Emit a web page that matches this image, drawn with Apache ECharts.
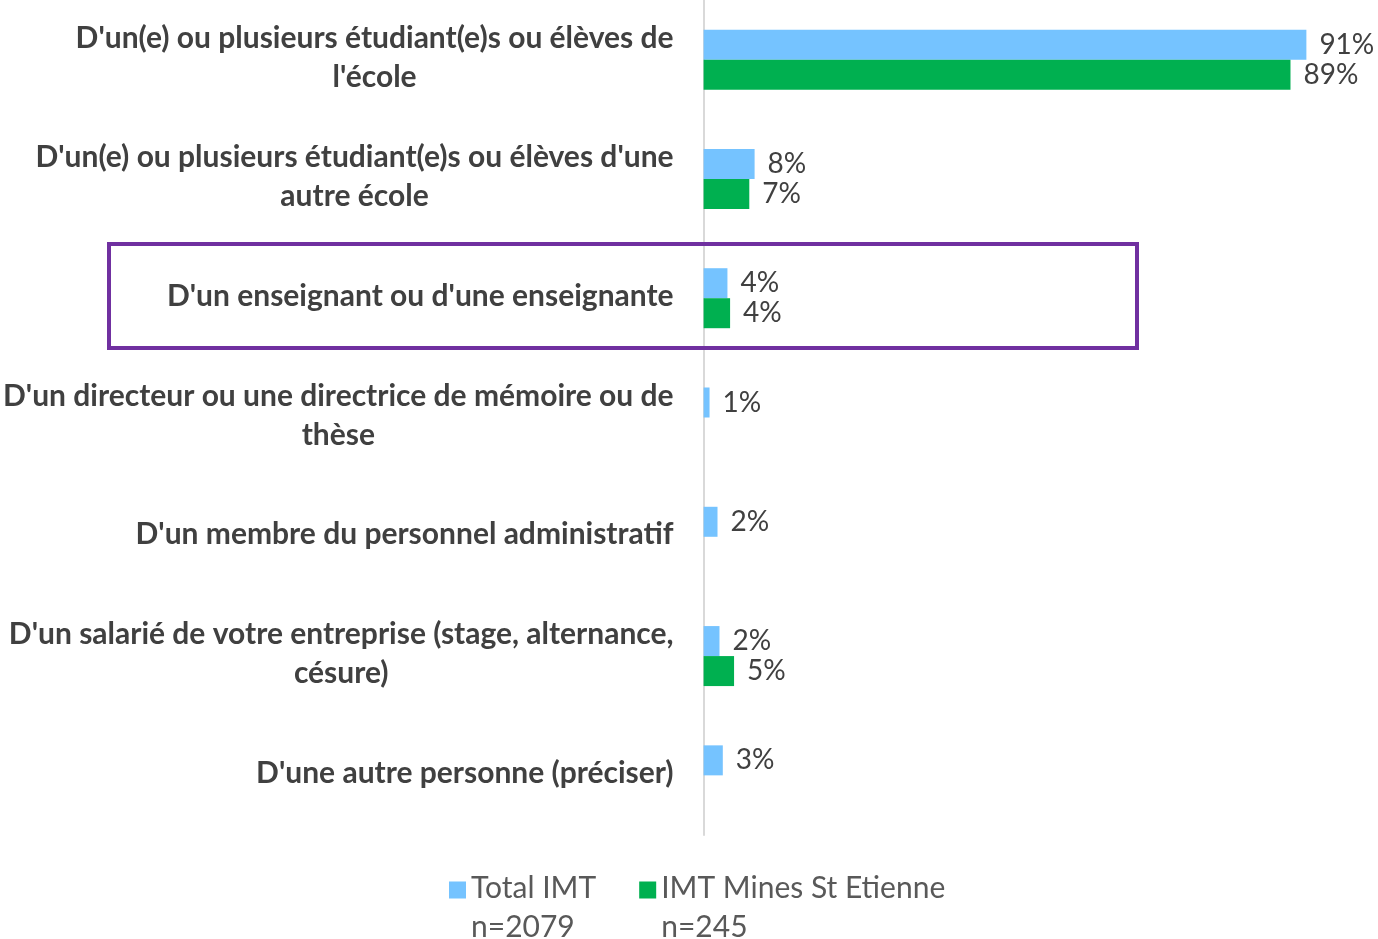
<!DOCTYPE html>
<html>
<head>
<meta charset="utf-8">
<script src="https://cdn.jsdelivr.net/npm/echarts@6/dist/echarts.min.js"></script>
<style>
html,body{margin:0;padding:0;background:#fff;}
#chart{width:1378px;height:939px;}
</style>
</head>
<body>
<div id="chart"></div>
<script>
const categories = [
  "D'un(e) ou plusieurs étudiant(e)s ou élèves de\nl'école",
  "D'un(e) ou plusieurs étudiant(e)s ou élèves d'une\nautre école",
  "D'un enseignant ou d'une enseignante",
  "D'un directeur ou une directrice de mémoire ou de\nthèse",
  "D'un membre du personnel administratif",
  "D'un salarié de votre entreprise (stage, alternance,\ncésure)",
  "D'une autre personne (préciser)"
];
const seriesNames = ["Total IMT", "IMT Mines St Etienne"];
const sampleSizes = ["n=2079", "n=245"];
const totalIMT = [91.0, 7.7, 3.6, 0.9, 2.1, 2.4, 2.9];
const minesStEtienne = [88.6, 6.9, 4.0, null, null, 4.6, null];

const FONT = 'Lato, "Noto Sans", sans-serif';
const chart = echarts.init(document.getElementById('chart'), null, {renderer: 'canvas'});

const valueLabel = {
  show: true,
  position: 'right',
  distance: 13,
  color: '#404040',
  fontSize: 28,
  fontFamily: FONT,
  formatter: p => Math.round(p.value) + '%'
};

const legendSquare = 'path://M0,0L17,0L17,17L0,17Z M0,53L0.01,53Z';

chart.setOption({
  animation: false,
  backgroundColor: '#ffffff',
  grid: {left: 703, right: 12, top: -2, bottom: 104, containLabel: false},
  xAxis: {
    type: 'value', min: 0, max: 100, show: false,
    splitLine: {show: false}
  },
  yAxis: {
    type: 'category',
    inverse: true,
    data: categories,
    axisLine: {show: true, lineStyle: {color: '#D9D9D9', width: 2}},
    axisTick: {show: false},
    axisLabel: {
      margin: 30,
      align: 'right',
      padding: [0, 0, 4, 0],
      formatter: v => v.split('\n').map(l => '{c|' + l + '}').join('\n'),
      rich: {
        c: {align: 'center', fontSize: 30, fontWeight: 'bold', color: '#404040', fontFamily: FONT, lineHeight: 39}
      }
    }
  },
  legend: {
    left: 449,
    top: 869,
    padding: 0,
    itemWidth: 17,
    itemHeight: 53,
    itemGap: 43,
    selectedMode: false,
    data: [
      {name: seriesNames[0], icon: legendSquare},
      {name: seriesNames[1], icon: legendSquare}
    ],
    formatter: name => name + '\n' + sampleSizes[seriesNames.indexOf(name)],
    textStyle: {color: '#595959', fontSize: 30, fontFamily: FONT, lineHeight: 39}
  },
  series: [
    {
      name: seriesNames[0], type: 'bar', data: totalIMT,
      barWidth: 30, barGap: '0%',
      itemStyle: {color: '#75C3FF'},
      label: valueLabel
    },
    {
      name: seriesNames[1], type: 'bar', data: minesStEtienne,
      barWidth: 30, barGap: '0%',
      itemStyle: {color: '#00B050'},
      label: valueLabel
    }
  ],
  graphic: [
    {
      type: 'rect',
      shape: {x: 109, y: 244, width: 1028, height: 104},
      style: {fill: 'none', stroke: '#7030A0', lineWidth: 4},
      z: 10
    }
  ]
});
</script>
</body>
</html>
